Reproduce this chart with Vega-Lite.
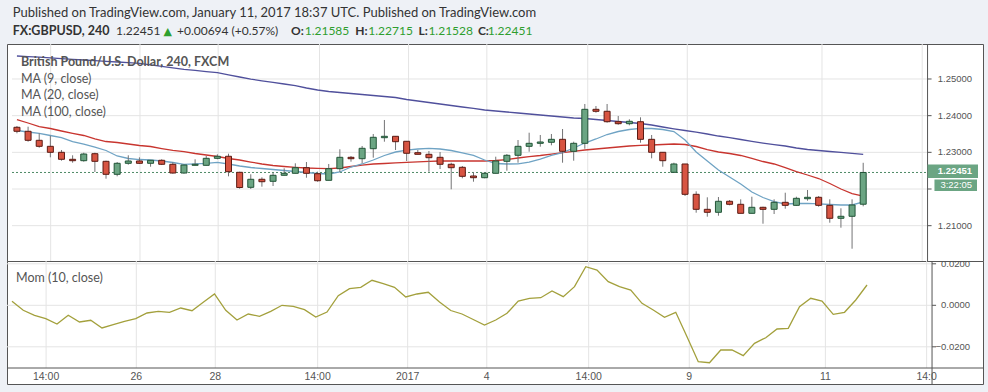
{
  "$schema": "https://vega.github.io/schema/vega-lite/v6.json",
  "background": "#eef1f6",
  "padding": {"left": 6, "top": 6, "right": 6, "bottom": 8},
  "spacing": 0,
  "bounds": "flush",
  "config": {"view": {"stroke": "#555555", "fill": "white"}, "concat": {"spacing": 0}},
  "datasets": {
    "candles": [
      {"i":0,"o":1.23683,"h":1.23718,"l":1.23519,"c":1.23574,"ma9":1.23595,"ma20":1.23895,"ma100":1.25627,"mom":0.00193},
      {"i":1,"o":1.23574,"h":1.23699,"l":1.2329,"c":1.23328,"ma9":1.23554,"ma20":1.238,"ma100":1.25611,"mom":-0.00241},
      {"i":2,"o":1.23328,"h":1.23519,"l":1.23126,"c":1.23164,"ma9":1.23519,"ma20":1.23704,"ma100":1.25594,"mom":-0.00482},
      {"i":3,"o":1.23164,"h":1.23454,"l":1.22864,"c":1.23001,"ma9":1.23459,"ma20":1.2365,"ma100":1.25575,"mom":-0.00646},
      {"i":4,"o":1.23001,"h":1.23064,"l":1.22772,"c":1.2281,"ma9":1.23404,"ma20":1.23582,"ma100":1.25553,"mom":-0.00901},
      {"i":5,"o":1.2281,"h":1.22919,"l":1.22717,"c":1.22772,"ma9":1.23295,"ma20":1.23519,"ma100":1.25537,"mom":-0.00482},
      {"i":6,"o":1.22772,"h":1.2299,"l":1.22745,"c":1.22954,"ma9":1.23227,"ma20":1.23459,"ma100":1.25518,"mom":-0.00805},
      {"i":7,"o":1.22963,"h":1.2299,"l":1.22464,"c":1.22755,"ma9":1.23145,"ma20":1.23364,"ma100":1.25499,"mom":-0.00723},
      {"i":8,"o":1.22755,"h":1.22772,"l":1.22281,"c":1.22401,"ma9":1.2305,"ma20":1.23295,"ma100":1.2548,"mom":-0.01094},
      {"i":9,"o":1.22401,"h":1.22736,"l":1.22346,"c":1.22701,"ma9":1.229,"ma20":1.23268,"ma100":1.25463,"mom":-0.00935},
      {"i":10,"o":1.22701,"h":1.22919,"l":1.22663,"c":1.22764,"ma9":1.22832,"ma20":1.23227,"ma100":1.25444,"mom":-0.00771},
      {"i":11,"o":1.22764,"h":1.22864,"l":1.22682,"c":1.22701,"ma9":1.22804,"ma20":1.23186,"ma100":1.25425,"mom":-0.00646},
      {"i":12,"o":1.22701,"h":1.22783,"l":1.22608,"c":1.22783,"ma9":1.22791,"ma20":1.23159,"ma100":1.25384,"mom":-0.00371},
      {"i":13,"o":1.22783,"h":1.2281,"l":1.22654,"c":1.22674,"ma9":1.22764,"ma20":1.23104,"ma100":1.25343,"mom":-0.00289},
      {"i":14,"o":1.22674,"h":1.22728,"l":1.22417,"c":1.22436,"ma9":1.22723,"ma20":1.23055,"ma100":1.25302,"mom":-0.00337},
      {"i":15,"o":1.22436,"h":1.22654,"l":1.22417,"c":1.22654,"ma9":1.22674,"ma20":1.23017,"ma100":1.25264,"mom":-0.0013},
      {"i":16,"o":1.22646,"h":1.2281,"l":1.22646,"c":1.22674,"ma9":1.22687,"ma20":1.22968,"ma100":1.25234,"mom":-0.0026},
      {"i":17,"o":1.22646,"h":1.229,"l":1.22646,"c":1.22837,"ma9":1.22701,"ma20":1.22927,"ma100":1.25202,"mom":0.00145},
      {"i":18,"o":1.22837,"h":1.22946,"l":1.2281,"c":1.22892,"ma9":1.22728,"ma20":1.22886,"ma100":1.25172,"mom":0.00545},
      {"i":19,"o":1.22892,"h":1.22963,"l":1.22346,"c":1.22472,"ma9":1.22682,"ma20":1.22832,"ma100":1.25114,"mom":-0.00241},
      {"i":20,"o":1.22455,"h":1.22472,"l":1.22008,"c":1.22041,"ma9":1.22627,"ma20":1.22791,"ma100":1.25054,"mom":-0.00709},
      {"i":21,"o":1.22046,"h":1.22401,"l":1.22,"c":1.22265,"ma9":1.22586,"ma20":1.22736,"ma100":1.24994,"mom":-0.00419},
      {"i":22,"o":1.22265,"h":1.22319,"l":1.22063,"c":1.22199,"ma9":1.22559,"ma20":1.22682,"ma100":1.24951,"mom":-0.0053},
      {"i":23,"o":1.2221,"h":1.22445,"l":1.22082,"c":1.22374,"ma9":1.22532,"ma20":1.22641,"ma100":1.24907,"mom":-0.00289},
      {"i":24,"o":1.22374,"h":1.22565,"l":1.22374,"c":1.22428,"ma9":1.22505,"ma20":1.22614,"ma100":1.24863,"mom":0},
      {"i":25,"o":1.22428,"h":1.22701,"l":1.22428,"c":1.22581,"ma9":1.22477,"ma20":1.22592,"ma100":1.2482,"mom":-0.00048},
      {"i":26,"o":1.22581,"h":1.22736,"l":1.22308,"c":1.22428,"ma9":1.2245,"ma20":1.22573,"ma100":1.24754,"mom":-0.00212},
      {"i":27,"o":1.22417,"h":1.22472,"l":1.22199,"c":1.22226,"ma9":1.22423,"ma20":1.22564,"ma100":1.247,"mom":-0.00564},
      {"i":28,"o":1.22237,"h":1.22682,"l":1.22237,"c":1.22554,"ma9":1.22409,"ma20":1.22554,"ma100":1.24659,"mom":-0.00323},
      {"i":29,"o":1.22554,"h":1.23083,"l":1.22464,"c":1.22864,"ma9":1.22464,"ma20":1.22573,"ma100":1.24632,"mom":0.00463},
      {"i":30,"o":1.22864,"h":1.229,"l":1.22745,"c":1.22826,"ma9":1.226,"ma20":1.22614,"ma100":1.24604,"mom":0.008},
      {"i":31,"o":1.22826,"h":1.23173,"l":1.22701,"c":1.2311,"ma9":1.22682,"ma20":1.22654,"ma100":1.24577,"mom":0.00868},
      {"i":32,"o":1.23099,"h":1.235,"l":1.22854,"c":1.2341,"ma9":1.22791,"ma20":1.22682,"ma100":1.2455,"mom":0.01205},
      {"i":33,"o":1.23399,"h":1.23882,"l":1.2329,"c":1.23437,"ma9":1.22914,"ma20":1.22695,"ma100":1.24522,"mom":0.01041},
      {"i":34,"o":1.23437,"h":1.23437,"l":1.23064,"c":1.2329,"ma9":1.23009,"ma20":1.22714,"ma100":1.24495,"mom":0.00868},
      {"i":35,"o":1.23301,"h":1.23301,"l":1.22764,"c":1.22974,"ma9":1.23058,"ma20":1.22728,"ma100":1.24441,"mom":0.004},
      {"i":36,"o":1.2299,"h":1.23064,"l":1.22946,"c":1.22946,"ma9":1.23091,"ma20":1.22742,"ma100":1.244,"mom":0.00545},
      {"i":37,"o":1.22946,"h":1.23036,"l":1.22472,"c":1.22854,"ma9":1.2311,"ma20":1.22755,"ma100":1.24359,"mom":0.00627},
      {"i":38,"o":1.22864,"h":1.23009,"l":1.22545,"c":1.22674,"ma9":1.23091,"ma20":1.22764,"ma100":1.24318,"mom":0.00159},
      {"i":39,"o":1.22674,"h":1.22717,"l":1.21992,"c":1.22581,"ma9":1.2305,"ma20":1.22764,"ma100":1.24277,"mom":-0.00251},
      {"i":40,"o":1.22592,"h":1.22627,"l":1.22292,"c":1.22346,"ma9":1.22987,"ma20":1.22764,"ma100":1.24236,"mom":-0.00419},
      {"i":41,"o":1.22355,"h":1.22464,"l":1.22199,"c":1.22308,"ma9":1.22914,"ma20":1.22764,"ma100":1.24201,"mom":-0.00684},
      {"i":42,"o":1.22308,"h":1.22455,"l":1.22292,"c":1.22428,"ma9":1.22791,"ma20":1.22764,"ma100":1.24154,"mom":-0.0095},
      {"i":43,"o":1.22428,"h":1.22881,"l":1.22428,"c":1.22764,"ma9":1.22695,"ma20":1.22777,"ma100":1.24127,"mom":-0.00709},
      {"i":44,"o":1.22755,"h":1.22954,"l":1.22499,"c":1.22919,"ma9":1.22682,"ma20":1.22804,"ma100":1.241,"mom":-0.00386},
      {"i":45,"o":1.22919,"h":1.23336,"l":1.22717,"c":1.23164,"ma9":1.22687,"ma20":1.22845,"ma100":1.24073,"mom":0.00207},
      {"i":46,"o":1.23164,"h":1.23535,"l":1.23017,"c":1.23246,"ma9":1.22736,"ma20":1.22881,"ma100":1.24045,"mom":0.00337},
      {"i":47,"o":1.23246,"h":1.23473,"l":1.23154,"c":1.23282,"ma9":1.22818,"ma20":1.22914,"ma100":1.24018,"mom":0.00366},
      {"i":48,"o":1.23274,"h":1.235,"l":1.23192,"c":1.23355,"ma9":1.22914,"ma20":1.22954,"ma100":1.23991,"mom":0.00689},
      {"i":49,"o":1.23355,"h":1.23636,"l":1.22717,"c":1.23028,"ma9":1.22995,"ma20":1.2299,"ma100":1.23963,"mom":0.00415},
      {"i":50,"o":1.23028,"h":1.2329,"l":1.22772,"c":1.23246,"ma9":1.23118,"ma20":1.23028,"ma100":1.23936,"mom":0.00897},
      {"i":51,"o":1.23246,"h":1.24318,"l":1.23099,"c":1.24173,"ma9":1.23254,"ma20":1.23064,"ma100":1.23923,"mom":0.0186},
      {"i":52,"o":1.24173,"h":1.24263,"l":1.24081,"c":1.24119,"ma9":1.23364,"ma20":1.23091,"ma100":1.23895,"mom":0.01701},
      {"i":53,"o":1.24119,"h":1.24318,"l":1.23808,"c":1.23835,"ma9":1.23486,"ma20":1.23118,"ma100":1.23868,"mom":0.01138},
      {"i":54,"o":1.23835,"h":1.23991,"l":1.23753,"c":1.23781,"ma9":1.23568,"ma20":1.23145,"ma100":1.23841,"mom":0.00897},
      {"i":55,"o":1.23781,"h":1.23901,"l":1.23737,"c":1.23846,"ma9":1.23623,"ma20":1.23173,"ma100":1.23813,"mom":0.00737},
      {"i":56,"o":1.23835,"h":1.23955,"l":1.23263,"c":1.23355,"ma9":1.23655,"ma20":1.23192,"ma100":1.23786,"mom":0.00096},
      {"i":57,"o":1.23355,"h":1.23473,"l":1.22837,"c":1.23001,"ma9":1.2365,"ma20":1.232,"ma100":1.23745,"mom":-0.00227},
      {"i":58,"o":1.23001,"h":1.23001,"l":1.22608,"c":1.22772,"ma9":1.23623,"ma20":1.23214,"ma100":1.23691,"mom":-0.00578},
      {"i":59,"o":1.22455,"h":1.22717,"l":1.22455,"c":1.22682,"ma9":1.23568,"ma20":1.23227,"ma100":1.23642,"mom":-0.00337},
      {"i":60,"o":1.22682,"h":1.22682,"l":1.21809,"c":1.21855,"ma9":1.23336,"ma20":1.23214,"ma100":1.23595,"mom":-0.01513},
      {"i":61,"o":1.21855,"h":1.21937,"l":1.21354,"c":1.21446,"ma9":1.23009,"ma20":1.23159,"ma100":1.23554,"mom":-0.02718},
      {"i":62,"o":1.21446,"h":1.21774,"l":1.21245,"c":1.21365,"ma9":1.22764,"ma20":1.23077,"ma100":1.235,"mom":-0.02767},
      {"i":63,"o":1.21365,"h":1.21782,"l":1.21272,"c":1.21665,"ma9":1.22518,"ma20":1.23009,"ma100":1.23445,"mom":-0.02155},
      {"i":64,"o":1.21665,"h":1.217,"l":1.21555,"c":1.21583,"ma9":1.22327,"ma20":1.22968,"ma100":1.23402,"mom":-0.02155},
      {"i":65,"o":1.21583,"h":1.21719,"l":1.21337,"c":1.21337,"ma9":1.22136,"ma20":1.22914,"ma100":1.2335,"mom":-0.02429},
      {"i":66,"o":1.21337,"h":1.2179,"l":1.21337,"c":1.21501,"ma9":1.21918,"ma20":1.22832,"ma100":1.23301,"mom":-0.01832},
      {"i":67,"o":1.21501,"h":1.21517,"l":1.21054,"c":1.21446,"ma9":1.21768,"ma20":1.2275,"ma100":1.23254,"mom":-0.01562},
      {"i":68,"o":1.21446,"h":1.21719,"l":1.21318,"c":1.21637,"ma9":1.21659,"ma20":1.22682,"ma100":1.23211,"mom":-0.01142},
      {"i":69,"o":1.21637,"h":1.21899,"l":1.21463,"c":1.21555,"ma9":1.21591,"ma20":1.22586,"ma100":1.23173,"mom":-0.01109},
      {"i":70,"o":1.21555,"h":1.2179,"l":1.21545,"c":1.21746,"ma9":1.21605,"ma20":1.22477,"ma100":1.23118,"mom":-0.00067},
      {"i":71,"o":1.21735,"h":1.21973,"l":1.21681,"c":1.21774,"ma9":1.2161,"ma20":1.22382,"ma100":1.23077,"mom":0.00337},
      {"i":72,"o":1.21774,"h":1.21809,"l":1.21517,"c":1.21555,"ma9":1.21596,"ma20":1.22286,"ma100":1.2305,"mom":0.00207},
      {"i":73,"o":1.21555,"h":1.21719,"l":1.21081,"c":1.21201,"ma9":1.21577,"ma20":1.2215,"ma100":1.23023,"mom":-0.00434},
      {"i":74,"o":1.21201,"h":1.21474,"l":1.20945,"c":1.21256,"ma9":1.21564,"ma20":1.22,"ma100":1.23001,"mom":-0.00337},
      {"i":75,"o":1.21256,"h":1.21719,"l":1.20372,"c":1.21564,"ma9":1.21564,"ma20":1.21877,"ma100":1.22974,"mom":0.00255},
      {"i":76,"o":1.21585,"h":1.22715,"l":1.21528,"c":1.22451,"ma9":1.21646,"ma20":1.21809,"ma100":1.22946,"mom":0.00978}
    ],
    "vgrid": [{"g":3.03,"lab":"14:00"},{"g":11.05,"lab":"26"},{"g":18.07,"lab":"28"},{"g":27.17,"lab":"14:00"},{"g":35.17,"lab":"2017"},{"g":42.2,"lab":"4"},{"g":51.26,"lab":"14:00"},{"g":60.2,"lab":"9"},{"g":72.3,"lab":"11"},{"g":81.3,"lab":"14:0"}],
    "pgrid": [{"p":1.21},{"p":1.22},{"p":1.23},{"p":1.24},{"p":1.25}],
    "plabels": [{"p":1.21},{"p":1.23},{"p":1.24},{"p":1.25}],
    "mgrid": [{"m":0.02},{"m":0},{"m":-0.02}],
    "one": [{"k": 1}]
  },
  "vconcat": [
    {
      "width": 976,
      "height": 217,
      "layer": [
        {"data": {"name": "vgrid"}, "mark": {"type": "rule", "color": "#e4e4e4", "strokeWidth": 1},
         "encoding": {"x": {"field": "g", "type": "quantitative", "scale": {"domain": [-0.444, 86.31], "nice": false, "zero": false}, "axis": null}}},
        {"data": {"name": "pgrid"}, "mark": {"type": "rule", "color": "#e4e4e4", "strokeWidth": 1},
         "encoding": {"y": {"field": "p", "type": "quantitative", "scale": {"domain": [1.20037, 1.25954], "nice": false, "zero": false}, "axis": null},
                      "x": {"datum": -0.444, "type": "quantitative", "axis": null}, "x2": {"datum": 81.78}}},
        {"data": {"name": "pgrid"}, "mark": {"type": "rule", "color": "#555555", "strokeWidth": 1},
         "encoding": {"y": {"field": "p", "type": "quantitative", "axis": null},
                      "x": {"datum": 81.78, "type": "quantitative", "axis": null}, "x2": {"datum": 82.14}}},
        {"data": {"name": "plabels"}, "mark": {"type": "text", "align": "right", "baseline": "middle", "font": "Liberation Sans", "fontSize": 9.5, "color": "#555555"},
         "encoding": {"y": {"field": "p", "type": "quantitative", "axis": null},
                      "x": {"datum": 85.78, "type": "quantitative", "axis": null},
                      "text": {"field": "p", "type": "quantitative", "format": ".5f"}}},
        {"data": {"name": "one"}, "mark": {"type": "rule", "color": "#555555", "strokeWidth": 1},
         "encoding": {"x": {"datum": 81.78, "type": "quantitative", "axis": null}}},
        {"data": {"name": "one"}, "mark": {"type": "rule", "color": "#4f8a66", "strokeDash": [2, 2], "strokeWidth": 1},
         "encoding": {"y": {"datum": 1.22451, "type": "quantitative", "axis": null}, "x": {"datum": -0.444, "type": "quantitative", "axis": null}, "x2": {"datum": 81.78}}},
        {"data": {"name": "candles"}, "mark": {"type": "line", "color": "#50509c", "strokeWidth": 1.3},
         "encoding": {"x": {"field": "i", "type": "quantitative", "axis": null}, "y": {"field": "ma100", "type": "quantitative", "axis": null}}},
        {"data": {"name": "candles"}, "mark": {"type": "line", "color": "#c8352f", "strokeWidth": 1.3},
         "encoding": {"x": {"field": "i", "type": "quantitative", "axis": null}, "y": {"field": "ma20", "type": "quantitative", "axis": null}}},
        {"data": {"name": "candles"}, "mark": {"type": "line", "color": "#6fa3c4", "strokeWidth": 1.3},
         "encoding": {"x": {"field": "i", "type": "quantitative", "axis": null}, "y": {"field": "ma9", "type": "quantitative", "axis": null}}},
        {"data": {"name": "candles"}, "mark": {"type": "rule", "color": "#737375", "strokeWidth": 1},
         "encoding": {"x": {"field": "i", "type": "quantitative", "axis": null}, "y": {"field": "l", "type": "quantitative", "axis": null}, "y2": {"field": "h"}}},
        {"data": {"name": "candles"}, "mark": {"type": "bar", "width": 6, "strokeWidth": 1},
         "encoding": {
           "x": {"field": "i", "type": "quantitative", "axis": null},
           "y": {"field": "o", "type": "quantitative", "axis": null},
           "y2": {"field": "c"},
           "fill": {"condition": {"test": "datum.c >= datum.o", "value": "#6ba583"}, "value": "#d75442"},
           "stroke": {"condition": {"test": "datum.c >= datum.o", "value": "#225437"}, "value": "#5b1a13"}}},
        {"data": {"name": "one"}, "mark": {"type": "rect", "color": "#6ba583"},
         "encoding": {"x": {"datum": 81.78, "type": "quantitative", "axis": null}, "x2": {"datum": 86.31}, "y": {"datum": 1.22668, "type": "quantitative", "axis": null}, "y2": {"datum": 1.223}}},
        {"data": {"name": "one"}, "mark": {"type": "rect", "color": "#6ba583"},
         "encoding": {"x": {"datum": 82.4, "type": "quantitative", "axis": null}, "x2": {"datum": 86.22}, "y": {"datum": 1.22259, "type": "quantitative", "axis": null}, "y2": {"datum": 1.21945}}},
        {"data": {"name": "one"}, "mark": {"type": "text", "text": "1.22451", "align": "right", "baseline": "middle", "font": "Liberation Sans", "fontSize": 9.5, "fontWeight": "bold", "color": "white"},
         "encoding": {"x": {"datum": 85.78, "type": "quantitative", "axis": null}, "y": {"datum": 1.22491, "type": "quantitative", "axis": null}}},
        {"data": {"name": "one"}, "mark": {"type": "text", "text": "3:22:05", "align": "right", "baseline": "middle", "font": "Liberation Sans", "fontSize": 9.5, "color": "white"},
         "encoding": {"x": {"datum": 85.78, "type": "quantitative", "axis": null}, "y": {"datum": 1.22116, "type": "quantitative", "axis": null}}},
        {"data": {"name": "one"}, "mark": {"type": "text", "text": "British Pound/U.S. Dollar, 240, FXCM", "align": "left", "baseline": "alphabetic", "font": "Lato", "fontSize": 12.5, "fontWeight": "bold", "color": "#555555"},
         "encoding": {"x": {"datum": 0.356, "type": "quantitative", "axis": null}, "y": {"datum": 1.25354, "type": "quantitative", "axis": null}}},
        {"data": {"name": "one"}, "mark": {"type": "text", "text": "MA (9, close)", "align": "left", "baseline": "alphabetic", "font": "Lato", "fontSize": 12.5, "color": "#555555"},
         "encoding": {"x": {"datum": 0.356, "type": "quantitative", "axis": null}, "y": {"datum": 1.24899, "type": "quantitative", "axis": null}}},
        {"data": {"name": "one"}, "mark": {"type": "text", "text": "MA (20, close)", "align": "left", "baseline": "alphabetic", "font": "Lato", "fontSize": 12.5, "color": "#555555"},
         "encoding": {"x": {"datum": 0.356, "type": "quantitative", "axis": null}, "y": {"datum": 1.24446, "type": "quantitative", "axis": null}}},
        {"data": {"name": "one"}, "mark": {"type": "text", "text": "MA (100, close)", "align": "left", "baseline": "alphabetic", "font": "Lato", "fontSize": 12.5, "color": "#555555"},
         "encoding": {"x": {"datum": 0.356, "type": "quantitative", "axis": null}, "y": {"datum": 1.23991, "type": "quantitative", "axis": null}}},
        {"data": {"name": "one"}, "mark": {"type": "text", "text": "Published on TradingView.com, January 11, 2017 18:37 UTC. Published on TradingView.com", "align": "left", "baseline": "alphabetic", "font": "Lato", "fontSize": 13, "color": "#333333"},
         "encoding": {"x": {"datum": -0.382, "type": "quantitative", "axis": null}, "y": {"datum": 1.26699, "type": "quantitative", "axis": null}}},
        {"data": {"name": "one"}, "mark": {"type": "text", "text": "FX:GBPUSD, 240", "align": "left", "baseline": "alphabetic", "font": "Lato", "fontSize": 12.5, "fontWeight": "bold", "color": "#333333"},
         "encoding": {"x": {"datum": -0.382, "type": "quantitative", "axis": null}, "y": {"datum": 1.262, "type": "quantitative", "axis": null}}},
        {"data": {"name": "one"}, "mark": {"type": "text", "text": "1.22451", "align": "left", "baseline": "alphabetic", "font": "Lato", "fontSize": 12, "color": "#333333"},
         "encoding": {"x": {"datum": 8.889, "type": "quantitative", "axis": null}, "y": {"datum": 1.262, "type": "quantitative", "axis": null}}},
        {"data": {"name": "one"}, "mark": {"type": "text", "text": "▲", "align": "left", "baseline": "alphabetic", "font": "DejaVu Sans", "fontSize": 11, "color": "#2ea02e"},
         "encoding": {"x": {"datum": 13.156, "type": "quantitative", "axis": null}, "y": {"datum": 1.262, "type": "quantitative", "axis": null}}},
        {"data": {"name": "one"}, "mark": {"type": "text", "text": "+0.00694 (+0.57%)", "align": "left", "baseline": "alphabetic", "font": "Lato", "fontSize": 12, "color": "#333333"},
         "encoding": {"x": {"datum": 14.373, "type": "quantitative", "axis": null}, "y": {"datum": 1.262, "type": "quantitative", "axis": null}}},
        {"data": {"name": "one"}, "mark": {"type": "text", "text": "O:", "align": "left", "baseline": "alphabetic", "font": "Lato", "fontSize": 12, "fontWeight": "bold", "color": "#333333"},
         "encoding": {"x": {"datum": 24.622, "type": "quantitative", "axis": null}, "y": {"datum": 1.262, "type": "quantitative", "axis": null}}},
        {"data": {"name": "one"}, "mark": {"type": "text", "text": "1.21585", "align": "left", "baseline": "alphabetic", "font": "Lato", "fontSize": 12, "color": "#2e9e2e"},
         "encoding": {"x": {"datum": 25.84, "type": "quantitative", "axis": null}, "y": {"datum": 1.262, "type": "quantitative", "axis": null}}},
        {"data": {"name": "one"}, "mark": {"type": "text", "text": "H:", "align": "left", "baseline": "alphabetic", "font": "Lato", "fontSize": 12, "fontWeight": "bold", "color": "#333333"},
         "encoding": {"x": {"datum": 30.373, "type": "quantitative", "axis": null}, "y": {"datum": 1.262, "type": "quantitative", "axis": null}}},
        {"data": {"name": "one"}, "mark": {"type": "text", "text": "1.22715", "align": "left", "baseline": "alphabetic", "font": "Lato", "fontSize": 12, "color": "#2e9e2e"},
         "encoding": {"x": {"datum": 31.556, "type": "quantitative", "axis": null}, "y": {"datum": 1.262, "type": "quantitative", "axis": null}}},
        {"data": {"name": "one"}, "mark": {"type": "text", "text": "L:", "align": "left", "baseline": "alphabetic", "font": "Lato", "fontSize": 12, "fontWeight": "bold", "color": "#333333"},
         "encoding": {"x": {"datum": 36.062, "type": "quantitative", "axis": null}, "y": {"datum": 1.262, "type": "quantitative", "axis": null}}},
        {"data": {"name": "one"}, "mark": {"type": "text", "text": "1.21528", "align": "left", "baseline": "alphabetic", "font": "Lato", "fontSize": 12, "color": "#2e9e2e"},
         "encoding": {"x": {"datum": 36.951, "type": "quantitative", "axis": null}, "y": {"datum": 1.262, "type": "quantitative", "axis": null}}},
        {"data": {"name": "one"}, "mark": {"type": "text", "text": "C:", "align": "left", "baseline": "alphabetic", "font": "Lato", "fontSize": 12, "fontWeight": "bold", "color": "#333333"},
         "encoding": {"x": {"datum": 41.396, "type": "quantitative", "axis": null}, "y": {"datum": 1.262, "type": "quantitative", "axis": null}}},
        {"data": {"name": "one"}, "mark": {"type": "text", "text": "1.22451", "align": "left", "baseline": "alphabetic", "font": "Lato", "fontSize": 12, "color": "#2e9e2e"},
         "encoding": {"x": {"datum": 42.284, "type": "quantitative", "axis": null}, "y": {"datum": 1.262, "type": "quantitative", "axis": null}}}
      ]
    },
    {
      "width": 976,
      "height": 123,
      "layer": [
        {"data": {"name": "vgrid"}, "mark": {"type": "rule", "color": "#e4e4e4", "strokeWidth": 1},
         "encoding": {"x": {"field": "g", "type": "quantitative", "scale": {"domain": [-0.444, 86.31], "nice": false, "zero": false}, "axis": null},
                      "y": {"datum": 0.02135, "type": "quantitative", "scale": {"domain": [-0.03793, 0.02135], "nice": false, "zero": false}, "axis": null}, "y2": {"datum": -0.03022}}},
        {"data": {"name": "mgrid"}, "mark": {"type": "rule", "color": "#e4e4e4", "strokeWidth": 1},
         "encoding": {"y": {"field": "m", "type": "quantitative", "axis": null}, "x": {"datum": -0.444, "type": "quantitative", "axis": null}, "x2": {"datum": 81.78}}},
        {"data": {"name": "mgrid"}, "mark": {"type": "rule", "color": "#555555", "strokeWidth": 1},
         "encoding": {"y": {"field": "m", "type": "quantitative", "axis": null}, "x": {"datum": 81.78, "type": "quantitative", "axis": null}, "x2": {"datum": 82.14}}},
        {"data": {"name": "mgrid"}, "mark": {"type": "text", "align": "right", "baseline": "middle", "font": "Liberation Sans", "fontSize": 9.5, "color": "#555555"},
         "encoding": {"y": {"field": "m", "type": "quantitative", "axis": null},
                      "x": {"datum": 85.16, "type": "quantitative", "axis": null},
                      "text": {"field": "m", "type": "quantitative", "format": ".4f"}}},
        {"data": {"name": "one"}, "mark": {"type": "rule", "color": "#555555", "strokeWidth": 1},
         "encoding": {"x": {"datum": 81.78, "type": "quantitative", "axis": null}}},
        {"data": {"name": "one"}, "mark": {"type": "rule", "color": "#555555", "strokeWidth": 1},
         "encoding": {"y": {"datum": -0.03022, "type": "quantitative", "axis": null}, "x": {"datum": -0.444, "type": "quantitative", "axis": null}, "x2": {"datum": 86.31}}},
        {"data": {"name": "vgrid"}, "mark": {"type": "text", "align": "center", "baseline": "middle", "font": "Liberation Sans", "fontSize": 10.5, "color": "#555555"},
         "encoding": {"x": {"field": "g", "type": "quantitative", "axis": null},
                      "y": {"datum": -0.03432, "type": "quantitative", "axis": null},
                      "text": {"field": "lab"},
                      "fontWeight": {"condition": {"test": "datum.lab === '2017'", "value": "bold"}, "value": "normal"}}},
        {"data": {"name": "candles"}, "mark": {"type": "line", "color": "#a3a03c", "strokeWidth": 1.3},
         "encoding": {
           "x": {"field": "i", "type": "quantitative", "axis": null},
           "y": {"field": "mom", "type": "quantitative", "axis": null}}},
        {"data": {"name": "one"}, "mark": {"type": "text", "text": "Mom (10, close)", "align": "left", "baseline": "alphabetic", "font": "Lato", "fontSize": 12.5, "color": "#555555"},
         "encoding": {"x": {"datum": 0.356, "type": "quantitative", "axis": null}, "y": {"datum": 0.01123, "type": "quantitative", "axis": null}}}
      ]
    }
  ]
}
